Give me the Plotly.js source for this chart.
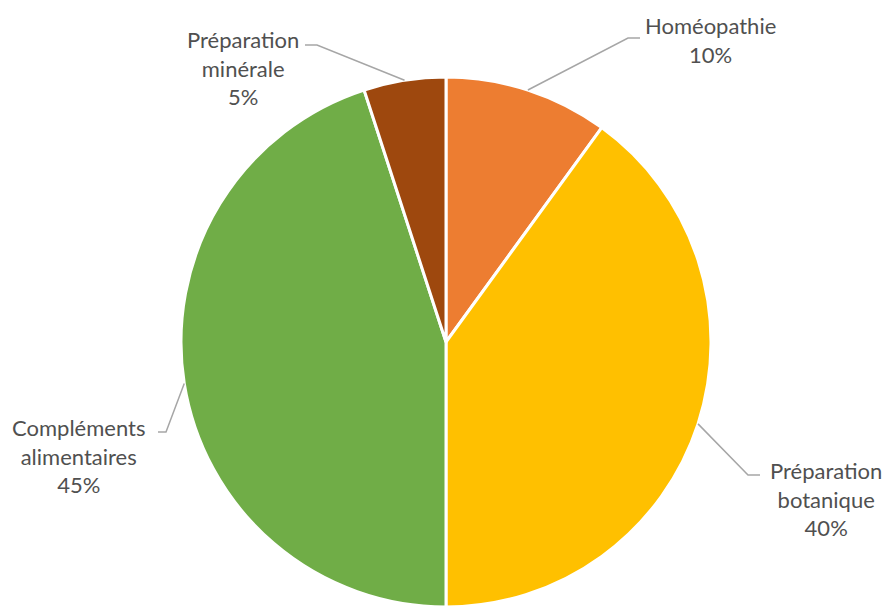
<!DOCTYPE html>
<html>
<head>
<meta charset="utf-8">
<script src="https://cdn.plot.ly/plotly-3.0.1.min.js"></script>
<style>html,body{margin:0;padding:0;background:#fff;}#chart{width:888px;height:607px;}</style>
</head>
<body>
<div id="chart"></div>
<script>
const categories = ["Homéopathie", "Préparation botanique", "Compléments alimentaires", "Préparation minérale"];
const labelLines = ["Homéopathie", "Préparation<br>botanique", "Compléments<br>alimentaires", "Préparation<br>minérale"];
const values = [10, 40, 45, 5];
const colors = ["#ED7D31", "#FFC000", "#70AD47", "#9E480E"];

const W = 888, H = 607;
const cx = 446, cy = 342, R = 265;
// label block centres and leader elbow points (pixels)
const labelPos = [[710, 40], [826, 499], [78, 456], [243, 68]];
const elbows = [[[628, 38], [640, 38]], [[748, 475], [760, 475]], [[166, 432], [158, 432]], [[317, 45], [305, 45]]];

const px = x => x / W, py = y => 1 - y / H;
const total = values.reduce((a, b) => a + b, 0);
let acc = 0;
const shapes = [], annotations = [];
values.forEach((v, i) => {
  const mid = (acc + v / 2) / total * 2 * Math.PI;
  acc += v;
  const ex = cx + R * Math.sin(mid), ey = cy - R * Math.cos(mid);
  const pts = [[ex, ey]].concat(elbows[i]);
  const path = pts.map((p, k) => (k ? "L" : "M") + px(p[0]) + "," + py(p[1])).join(" ");
  shapes.push({type: "path", xref: "paper", yref: "paper", path: path, line: {color: "#A6A6A6", width: 1.5}});
  const pct = Math.round(v / total * 100) + "%";
  annotations.push({xref: "paper", yref: "paper", x: px(labelPos[i][0]), y: py(labelPos[i][1]),
    xanchor: "center", yanchor: "middle", showarrow: false, align: "center",
    text: labelLines[i] + "<br>" + pct, font: {family: "Lato, sans-serif", size: 22, color: "#505050"}});
});

const data = [{
  type: "pie", labels: categories, values: values, sort: false, direction: "clockwise", rotation: 0,
  marker: {colors: colors, line: {color: "#FFFFFF", width: 3}},
  textinfo: "none", hoverinfo: "label+percent",
  domain: {x: [px(cx - R), px(cx + R)], y: [py(cy + R), py(cy - R)]}
}];
const layout = {
  width: W, height: H, margin: {l: 0, r: 0, t: 0, b: 0}, showlegend: false,
  paper_bgcolor: "#fff", shapes: shapes, annotations: annotations
};
Plotly.newPlot("chart", data, layout, {displayModeBar: false, staticPlot: true});
</script>
</body>
</html>
